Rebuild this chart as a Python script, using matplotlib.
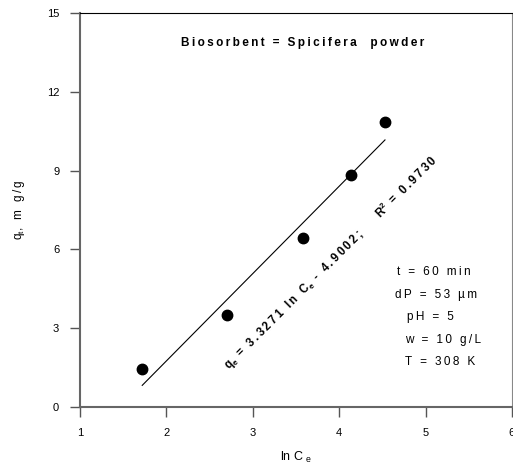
import numpy as np
import matplotlib
matplotlib.use('Agg')
import matplotlib.pyplot as plt

plt.rcParams['font.family'] = ['Liberation Sans', 'DejaVu Sans']

# data
ln_ce = [1.72, 2.70, 3.58, 4.14, 4.53]
qt = [1.45, 3.50, 6.43, 8.83, 10.85]
slope, intercept = 3.3271, -4.9002
xticks = [1, 2, 3, 4, 5, 6]
yticks = [0, 3, 6, 9, 12, 15]
conditions = ['t = 60 min', 'dP = 53 \u00b5m', 'pH = 5', 'w = 10 g/L', 'T = 308 K']
cond_x = [5.09, 5.12, 5.06, 5.20, 5.17]
cond_y = [5.14, 4.26, 3.43, 2.55, 1.71]


def spaced(s, gap='\u2009'):
    # spread the letters out like the original figure (skip mathtext parts)
    parts = s.split('$')
    for i in range(0, len(parts), 2):
        parts[i] = gap.join(parts[i])
    return '$'.join(parts)


fig = plt.figure(figsize=(5.13, 4.71), dpi=100)
ax = fig.add_axes([0.156, 0.136, 0.842, 0.836])

xfit = np.array([min(ln_ce), max(ln_ce)])
ax.plot(xfit, slope * xfit + intercept, color='black', linewidth=0.8)
ax.plot(ln_ce, qt, 'o', color='black', markersize=7.5)

ax.set_xlim(1, 6)
ax.set_ylim(0, 15)
ax.set_xticks(xticks)
ax.set_yticks(yticks)
ax.tick_params(direction='out', length=7, width=1, color='#555555',
               labelsize=8, pad=8)
for s in ['left', 'bottom']:
    ax.spines[s].set_color('#666666')
    ax.spines[s].set_linewidth(1.5)
ax.spines['top'].set_linewidth(0.8)
ax.spines['right'].set_color('#888888')
ax.spines['right'].set_linewidth(0.8)

ax.set_xlabel('ln C $_{\\mathregular{e}}$', fontsize=9, labelpad=9)
ax.set_ylabel(spaced('q$_{\\mathregular{t}}$, m g/g'), fontsize=8.5, labelpad=14)

ax.text(3.58, 13.86, spaced('Biosorbent = Spicifera  powder'), ha='center', va='center',
        fontsize=8.5, fontweight='bold')

eq = 'q$_{\\mathregular{e}}$ = 3.3271 ln C$_{\\mathregular{e}}$ - 4.9002;    R$^{\\mathregular{2}}$ = 0.9730'
ax.text(3.91, 5.5, spaced(eq), rotation=45, rotation_mode='anchor',
        ha='center', va='center', fontsize=8.3, fontweight='bold')

for c, cx, cy in zip(conditions, cond_x, cond_y):
    ax.text(cx, cy, spaced(c), ha='center', va='center', fontsize=8.5)

fig.savefig('out.png', dpi=100)
